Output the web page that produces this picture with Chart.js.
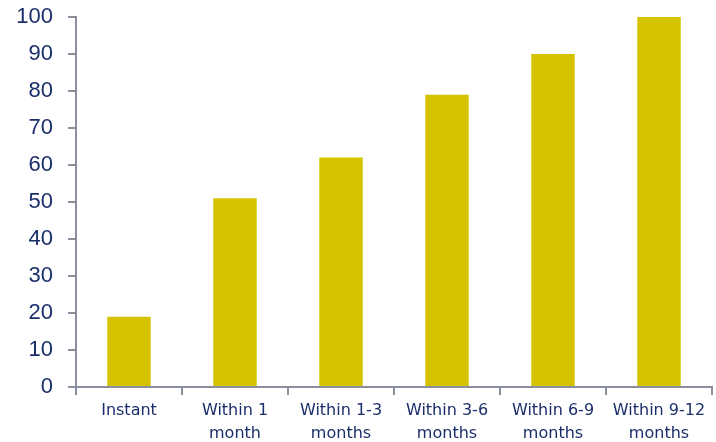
<!DOCTYPE html>
<html>
<head>
<meta charset="utf-8">
<script src="https://cdn.jsdelivr.net/npm/chart.js@4"></script>
<style>
  html, body { margin: 0; padding: 0; background: #fff; }
  #wrap { width: 716px; height: 442px; }
</style>
</head>
<body>
<div id="wrap"><canvas id="c"></canvas></div>
<script>
const CATEGORIES = [['Instant'], ['Within 1', 'month'], ['Within 1-3', 'months'], ['Within 3-6', 'months'], ['Within 6-9', 'months'], ['Within 9-12', 'months']];
const VALUES = [19, 51, 62, 79, 90, 100];
const Y_MIN = 0, Y_MAX = 100, Y_STEP = 10;

const NAVY = '#1a2e6b';
const AXIS = '#8a8e9e';
const BAR = '#d6c300';

new Chart(document.getElementById('c'), {
  type: 'bar',
  data: {
    labels: CATEGORIES,
    datasets: [{ data: VALUES, backgroundColor: BAR, borderWidth: 0, barPercentage: 0.41, categoryPercentage: 1 }],
  },
  options: {
    responsive: true,
    maintainAspectRatio: false,
    animation: false,
    layout: { padding: { top: 17, right: 4, left: 0, bottom: 0 } },
    plugins: { legend: { display: false }, tooltip: { enabled: false } },
    scales: {
      x: {
        afterFit: s => { s.height = 55; s.paddingLeft = 0; s.paddingRight = 0; },
        grid: { drawOnChartArea: false, drawTicks: true, tickLength: 8, color: AXIS, lineWidth: 2 },
        border: { color: AXIS, width: 2 },
        ticks: { color: NAVY, padding: 5, maxRotation: 0, font: { family: 'DejaVu Sans', size: 16, lineHeight: 1.4 } },
      },
      y: {
        min: Y_MIN, max: Y_MAX,
        afterFit: s => { s.width = 76; s.paddingTop = 0; s.paddingBottom = 0; },
        grid: { drawOnChartArea: false, drawTicks: true, tickLength: 8, color: AXIS, lineWidth: 2 },
        border: { color: AXIS, width: 2 },
        ticks: { stepSize: Y_STEP, color: NAVY, padding: 15, font: { family: 'Liberation Sans', size: 22 } },
      },
    },
  },
});
</script>
</body>
</html>
